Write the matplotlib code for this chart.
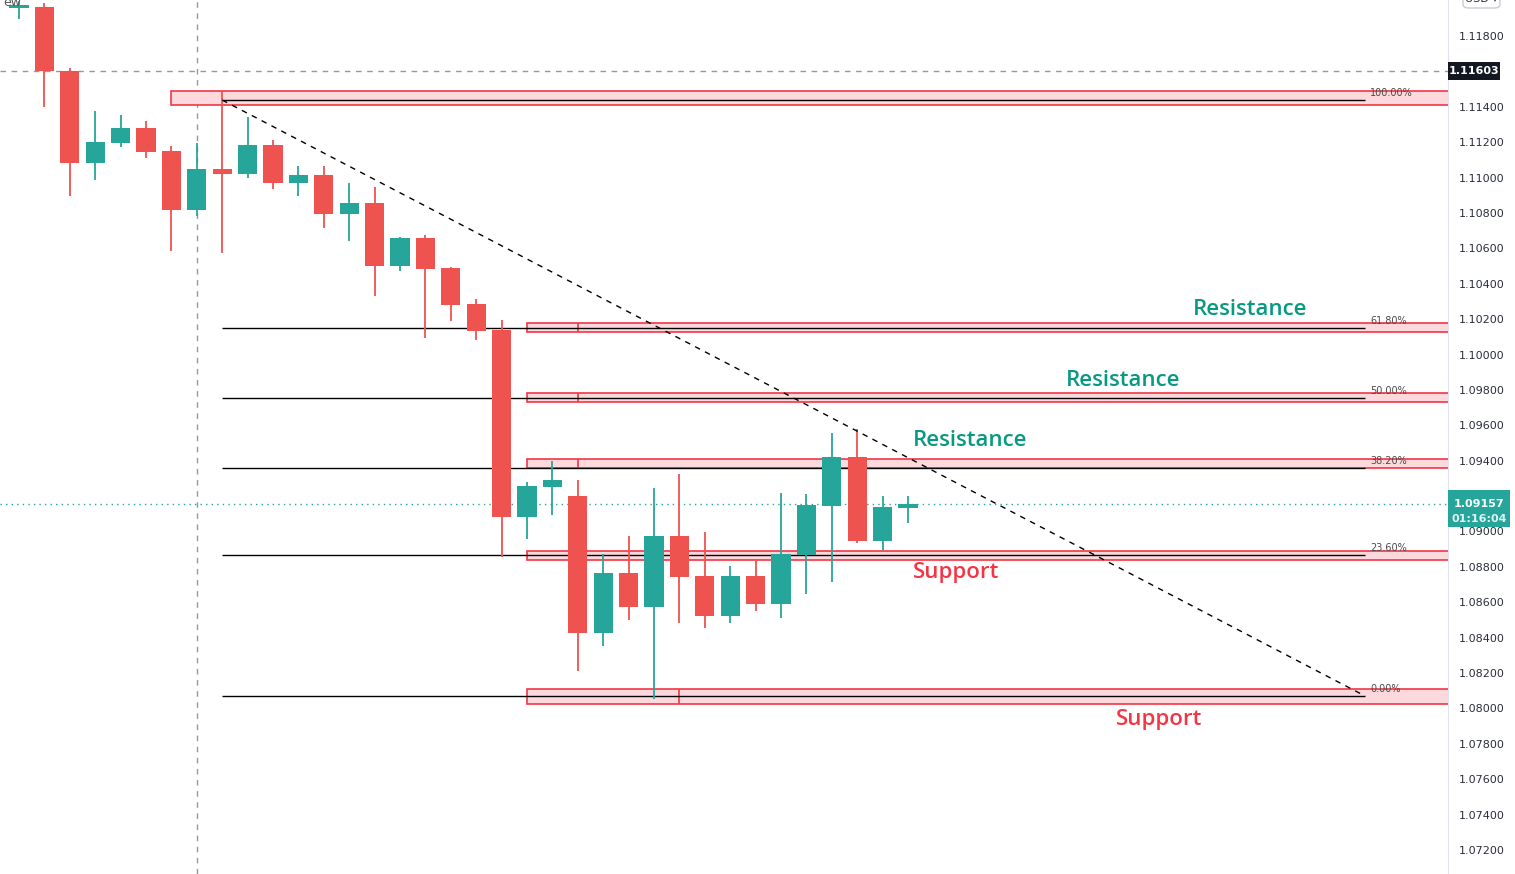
import numpy as np
import matplotlib
matplotlib.use("Agg")
import matplotlib.pyplot as plt
from matplotlib.patches import Rectangle, FancyBboxPatch
from matplotlib.transforms import blended_transform_factory

# candle data (daily EURUSD style)
opens = [1.11960, 1.11964, 1.11603, 1.11082, 1.11195, 1.11280, 1.11150, 1.10817, 1.11048, 1.11020,
         1.11184, 1.10969, 1.11015, 1.10794, 1.10856, 1.10500, 1.10658, 1.10489, 1.10285, 1.10139,
         1.09082, 1.09251, 1.09200, 1.08426, 1.08765, 1.08573, 1.08974, 1.08748, 1.08522, 1.08748,
         1.08590, 1.08867, 1.09144, 1.09421, 1.08946, 1.09133]
highs = [1.12000, 1.11986, 1.11619, 1.11376, 1.11354, 1.11320, 1.11178, 1.11195, 1.11484, 1.11342,
         1.11212, 1.11065, 1.11065, 1.10969, 1.10947, 1.10664, 1.10675, 1.10494, 1.10314, 1.10195,
         1.09280, 1.09398, 1.09291, 1.08873, 1.08974, 1.09246, 1.09325, 1.08997, 1.08805, 1.08844,
         1.09217, 1.09212, 1.09557, 1.09579, 1.09200, 1.09200]
lows = [1.11896, 1.11399, 1.10896, 1.10986, 1.11173, 1.11111, 1.10585, 1.10783, 1.10574, 1.10998,
        1.10935, 1.10896, 1.10715, 1.10642, 1.10331, 1.10472, 1.10093, 1.10189, 1.10082, 1.08856,
        1.08958, 1.09093, 1.08212, 1.08353, 1.08500, 1.08053, 1.08483, 1.08455, 1.08483, 1.08551,
        1.08511, 1.08647, 1.08715, 1.08935, 1.08895, 1.09048]
closes = [1.11966, 1.11603, 1.11082, 1.11201, 1.11280, 1.11144, 1.10817, 1.11048, 1.11020, 1.11184,
          1.10969, 1.11015, 1.10794, 1.10856, 1.10500, 1.10658, 1.10483, 1.10280, 1.10133, 1.09082,
          1.09257, 1.09291, 1.08426, 1.08765, 1.08573, 1.08974, 1.08743, 1.08522, 1.08748, 1.08590,
          1.08873, 1.09150, 1.09421, 1.08946, 1.09138, 1.09157]

# fibonacci retracement
fib_high = 1.11438
fib_low = 1.08070
fib_levels = [1.0, 0.618, 0.5, 0.382, 0.236, 0.0]
fib_labels = ["100.00%", "61.80%", "50.00%", "38.20%", "23.60%", "0.00%"]
fib_start, fib_end = 8, 53

# zones (bottom, top, start index, divider index)
zone_bottoms = [1.11410, 1.10127, 1.09732, 1.09359, 1.08839, 1.08025]
zone_tops = [1.11489, 1.10178, 1.09783, 1.09410, 1.08890, 1.08110]
zone_starts = [6, 20, 20, 20, 20, 20]
zone_dividers = [None, 22, 22, 22, 22, 26]

last_price = 1.09157
prev_close = 1.11603
cursor_x = 7
countdown = "01:16:04"
yticks = [v for v in np.arange(1.072, 1.1181, 0.002) if abs(v - 1.116) > 1e-6]

notes = ["Resistance", "Resistance", "Resistance", "Support", "Support"]
note_x = [46.2, 41.2, 35.2, 35.2, 43.2]
note_y = [1.10252, 1.09851, 1.09512, 1.08771, 1.07935]
note_kind = ["r", "r", "r", "s", "s"]

UP = "#26a69a"
DOWN = "#ef5350"
ZONE_EDGE = "#f23645"
ZONE_FILL = "#fdd9dd"

PX = 1 / 17696  # price per pixel

fig = plt.figure(figsize=(15.15, 8.74), dpi=100)
ax = fig.add_axes([0, 0, 1448 / 1515, 1])
xmax = 56.26
ax.set_xlim(-0.748, xmax)
ax.set_ylim(1.118 - 838 * PX, 1.118 + 36 * PX)

for s in ["top", "left", "bottom"]:
    ax.spines[s].set_visible(False)
ax.spines["right"].set_color("#e0e3eb")
ax.set_xticks([])
ax.set_yticks(yticks)
ax.set_yticklabels(["%.5f" % v for v in yticks])
ax.tick_params(axis="y", left=False, labelleft=False, right=True, labelright=True,
               length=0, pad=8, labelsize=8, labelcolor="#2a2e39")

# cross-hair and reference lines
ax.axvline(cursor_x, color="#9598a1", lw=1, ls=(0, (4, 4)), zorder=1)
ax.axhline(prev_close, color="#9598a1", lw=1, ls=(0, (4, 4)), zorder=1)
ax.axhline(last_price, color=UP, lw=1, ls=(0, (1, 3)), zorder=1)

# zones
for b, t, st, dv in zip(zone_bottoms, zone_tops, zone_starts, zone_dividers):
    ax.add_patch(Rectangle((st, b), xmax + 1 - st, t - b, facecolor=ZONE_FILL,
                           edgecolor=ZONE_EDGE, lw=1.2, zorder=2))
    if dv is not None:
        ax.vlines(dv, b, t, color=ZONE_EDGE, lw=1.2, zorder=2)

# fib lines
rng = fib_high - fib_low
for lv, lab in zip(fib_levels, fib_labels):
    p = fib_low + lv * rng
    ax.hlines(p, fib_start, fib_end, color="black", lw=1, zorder=3)
    ax.text(fib_end + 0.2, p + 7 * PX, lab, fontsize=7, color="#4a4a4a",
            va="center", ha="left", zorder=6)

# trend line
ax.plot([fib_start, fib_end], [fib_high, fib_low], color="black", lw=1,
        ls=(0, (4, 4)), zorder=5)

# candles
x = np.arange(len(opens))
for i in x:
    o, h, l, c = opens[i], highs[i], lows[i], closes[i]
    col = UP if c >= o else DOWN
    ax.vlines(i, l, h, color=col, lw=1.3, zorder=4)
    body = max(abs(c - o), 3 * PX)
    ax.bar(i, body, bottom=min(o, c), width=0.75, color=col, zorder=4)

# annotations
for txt, nx, ny, k in zip(notes, note_x, note_y, note_kind):
    ax.text(nx, ny, txt, fontsize=16, fontweight="semibold", family="Open Sans",
            color="#089981" if k == "r" else ZONE_EDGE, ha="left", va="center", zorder=7)

# price-axis labels
tr = blended_transform_factory(ax.transAxes, ax.transData)
ax.add_patch(Rectangle((1.0, last_price - 23 * PX), 62 / 1448, 37 * PX, transform=tr,
                       facecolor=UP, edgecolor="none", clip_on=False, zorder=10))
ax.text(1.0 + 31 / 1448, last_price, "%.5f" % last_price, transform=tr, color="white",
        fontsize=8, fontweight="bold", ha="center", va="center", clip_on=False, zorder=11)
ax.text(1.0 + 31 / 1448, last_price - 15 * PX, countdown, transform=tr, color="#e0f2f1",
        fontsize=8, fontweight="bold", ha="center", va="center", clip_on=False, zorder=11)

ax.add_patch(Rectangle((1.0, prev_close - 9 * PX), 52 / 1448, 18 * PX, transform=tr,
                       facecolor="#131722", edgecolor="none", clip_on=False, zorder=10))
ax.text(1.0 + 26 / 1448, prev_close, "%.5f" % prev_close, transform=tr, color="white",
        fontsize=8, fontweight="bold", ha="center", va="center", clip_on=False, zorder=11)

# currency button at the top right
fig.patches.append(FancyBboxPatch((1463 / 1515, 866 / 874), 37 / 1515, 20 / 874,
                                  boxstyle="round,pad=0,rounding_size=0.004",
                                  transform=fig.transFigure, facecolor="white",
                                  edgecolor="#c9ccd4", lw=1))
fig.text(1481 / 1515, 870 / 874, "USD \u25be", fontsize=8, color="#2a2e39",
         ha="center", va="bottom")
fig.text(3 / 1515, 878 / 874, "ew", fontsize=9, color="#555555", ha="left", va="top")

fig.savefig("out.png", dpi=100)
